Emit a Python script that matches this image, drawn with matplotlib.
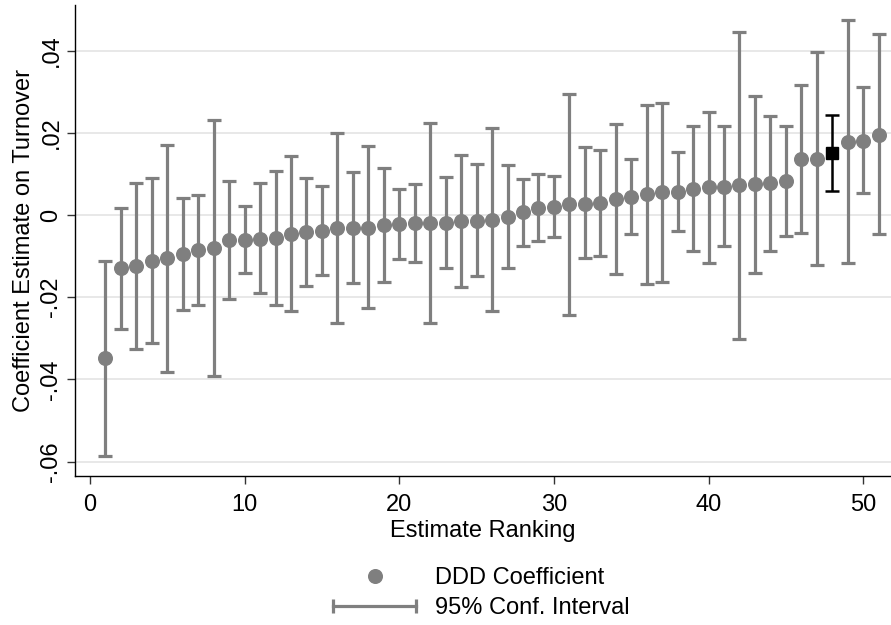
import matplotlib
matplotlib.use("Agg")
import matplotlib.pyplot as plt
from matplotlib.lines import Line2D
from matplotlib.legend_handler import HandlerLine2D
import numpy as np

plt.rcParams['font.family'] = ['Liberation Sans', 'DejaVu Sans']

rank = list(range(1, 52))
coef = [-0.0349, -0.0130, -0.0124, -0.0113, -0.0105, -0.0095, -0.0085, -0.0081, -0.0061, -0.0060,
        -0.0058, -0.0057, -0.0046, -0.0041, -0.0038, -0.0032, -0.0031, -0.0031, -0.0024, -0.0023,
        -0.0020, -0.0019, -0.0019, -0.0014, -0.0014, -0.0012, -0.0004, 0.0007, 0.0017, 0.0020,
        0.0026, 0.0028, 0.0030, 0.0039, 0.0045, 0.0050, 0.0055, 0.0056, 0.0064, 0.0068,
        0.0069, 0.0073, 0.0075, 0.0077, 0.0083, 0.0136, 0.0137, 0.0152, 0.0178, 0.0181, 0.0195]
upper = [-0.0111, 0.0018, 0.0078, 0.0090, 0.0170, 0.0041, 0.0049, 0.0231, 0.0083, 0.0022,
         0.0077, 0.0107, 0.0143, 0.0090, 0.0071, 0.0199, 0.0104, 0.0167, 0.0114, 0.0063,
         0.0075, 0.0225, 0.0092, 0.0147, 0.0123, 0.0212, 0.0122, 0.0088, 0.0100, 0.0095,
         0.0294, 0.0165, 0.0157, 0.0222, 0.0136, 0.0268, 0.0273, 0.0153, 0.0216, 0.0251,
         0.0217, 0.0445, 0.0290, 0.0241, 0.0217, 0.0316, 0.0397, 0.0243, 0.0474, 0.0311, 0.0440]
lower = [-0.0586, -0.0277, -0.0325, -0.0312, -0.0381, -0.0230, -0.0219, -0.0392, -0.0204, -0.0142,
         -0.0190, -0.0219, -0.0233, -0.0172, -0.0146, -0.0262, -0.0165, -0.0227, -0.0162, -0.0106,
         -0.0115, -0.0262, -0.0130, -0.0174, -0.0149, -0.0234, -0.0130, -0.0076, -0.0063, -0.0054,
         -0.0243, -0.0105, -0.0099, -0.0144, -0.0046, -0.0167, -0.0163, -0.0040, -0.0087, -0.0116,
         -0.0075, -0.0301, -0.0142, -0.0088, -0.0050, -0.0044, -0.0122, 0.0058, -0.0117, 0.0053, -0.0047]
highlight_rank = 48

yticks = [-0.06, -0.04, -0.02, 0.0, 0.02, 0.04]
ytick_labels = ['-.06', '-.04', '-.02', '0', '.02', '.04']
xticks = [0, 10, 20, 30, 40, 50]

rank = np.array(rank)
coef = np.array(coef)
upper = np.array(upper)
lower = np.array(lower)
hl = rank == highlight_rank
nh = ~hl

gray = '#7f7f7f'
FS = 17
fig = plt.figure(figsize=(8.91, 6.25), dpi=100)
ax = fig.add_axes([75/891, 149/625, 1 - 75/891, 471/625])

for yv in yticks:
    ax.axhline(yv, color='#e6e6e6', lw=1.3, zorder=0)

ax.errorbar(rank[nh], coef[nh], yerr=[coef[nh] - lower[nh], upper[nh] - coef[nh]],
            fmt='none', ecolor=gray, elinewidth=2.3, capsize=5, capthick=2.3, zorder=2)
ax.plot(rank[nh], coef[nh], 'o', color=gray, markersize=9.8, zorder=3)
ax.errorbar(rank[hl], coef[hl], yerr=[coef[hl] - lower[hl], upper[hl] - coef[hl]],
            fmt='none', ecolor='black', elinewidth=1.8, capsize=5, capthick=1.8, zorder=4)
ax.plot(rank[hl], coef[hl], 's', color='black', markersize=9, zorder=5)

ax.set_xlim(-0.97, 51.8)
ax.set_ylim(-0.0635, 0.0511)
ax.set_xticks(xticks)
ax.set_yticks(yticks)
ax.set_yticklabels(ytick_labels, rotation=90, va='center')
ax.tick_params(axis='both', labelsize=FS, length=6, width=1, color='#333333')
ax.tick_params(axis='y', pad=3)
ax.tick_params(axis='x', pad=7)
for s in ['top', 'right']:
    ax.spines[s].set_visible(False)
for s in ['left', 'bottom']:
    ax.spines[s].set_linewidth(1.0)
ax.set_xlabel('Estimate Ranking', fontsize=FS, labelpad=3)
ax.set_ylabel('Coefficient Estimate on Turnover', fontsize=FS, labelpad=4)

h1 = Line2D([], [], color=gray, marker='o', linestyle='none', markersize=9.8)
h2 = Line2D([], [], color=gray, lw=2.3, marker='|', markersize=10, markeredgewidth=2.3)
fig.legend([h1, h2], ['DDD Coefficient', '95% Conf. Interval'],
           handler_map={h1: HandlerLine2D(numpoints=1), h2: HandlerLine2D(numpoints=2)},
           loc='center', bbox_to_anchor=(478/891, 32/625), frameon=False, fontsize=FS,
           handlelength=4.1, handletextpad=0.5, labelspacing=0.32)

fig.savefig('out.png', dpi=100)
